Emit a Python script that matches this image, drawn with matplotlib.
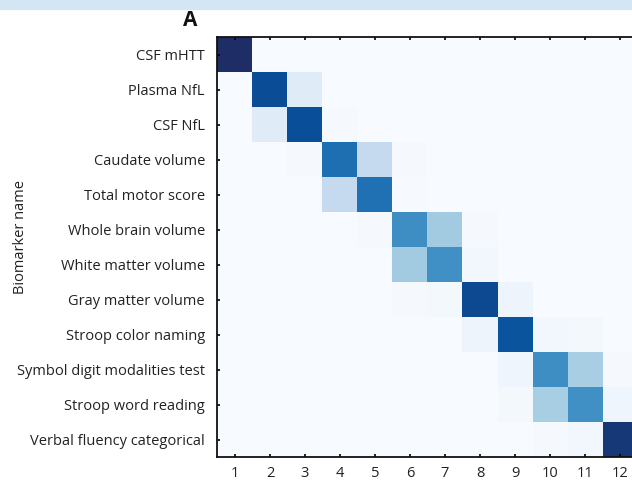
import numpy as np
import matplotlib.pyplot as plt
from matplotlib.colors import LinearSegmentedColormap
from matplotlib.patches import Rectangle

biomarkers = [
    "CSF mHTT",
    "Plasma NfL",
    "CSF NfL",
    "Caudate volume",
    "Total motor score",
    "Whole brain volume",
    "White matter volume",
    "Gray matter volume",
    "Stroop color naming",
    "Symbol digit modalities test",
    "Stroop word reading",
    "Verbal fluency categorical",
]
events = [str(i) for i in range(1, 13)]

# probability of each biomarker at each stage position
row_1 = [1.00, 0, 0, 0, 0, 0, 0, 0, 0, 0, 0, 0]
row_2 = [0, 0.89, 0.12, 0, 0, 0, 0, 0, 0, 0, 0, 0]
row_3 = [0, 0.12, 0.88, 0.01, 0, 0, 0, 0, 0, 0, 0, 0]
row_4 = [0, 0, 0.01, 0.76, 0.25, 0.01, 0, 0, 0, 0, 0, 0]
row_5 = [0, 0, 0, 0.25, 0.75, 0.005, 0, 0, 0, 0, 0, 0]
row_6 = [0, 0, 0, 0, 0.01, 0.64, 0.36, 0.01, 0, 0, 0, 0]
row_7 = [0, 0, 0, 0, 0, 0.36, 0.63, 0.03, 0, 0, 0, 0]
row_8 = [0, 0, 0, 0, 0, 0.01, 0.02, 0.90, 0.05, 0, 0, 0]
row_9 = [0, 0, 0, 0, 0, 0, 0, 0.05, 0.86, 0.03, 0.02, 0]
row_10 = [0, 0, 0, 0, 0, 0, 0, 0, 0.04, 0.64, 0.34, 0.01]
row_11 = [0, 0, 0, 0, 0, 0, 0, 0, 0.02, 0.34, 0.63, 0.04]
row_12 = [0, 0, 0, 0, 0, 0, 0, 0, 0, 0.01, 0.03, 0.96]

matrix = np.array([row_1, row_2, row_3, row_4, row_5, row_6,
                   row_7, row_8, row_9, row_10, row_11, row_12])

cmap = LinearSegmentedColormap.from_list("pos", [
    (0.0, "#f7fbff"), (0.125, "#deebf7"), (0.25, "#c6dbef"),
    (0.375, "#9ecae1"), (0.5, "#6baed6"), (0.625, "#4292c6"),
    (0.75, "#2171b5"), (0.875, "#08519c"), (1.0, "#1e2d66")])

plt.rcParams['font.family'] = ['Open Sans', 'DejaVu Sans']

fig = plt.figure(figsize=(6.32, 4.8), dpi=100)
fig.patches.append(Rectangle((0, 0.981), 1, 0.019, transform=fig.transFigure,
                             color="#d3e6f4", zorder=0))

ax = fig.add_axes([0.344, 0.047, 0.665, 0.875])
ax.imshow(matrix, cmap=cmap, vmin=0, vmax=1, aspect="auto",
          interpolation="nearest")

ax.set_xticks(range(len(events)))
ax.set_xticklabels(events, fontsize=10.5, color="#222222")
ax.set_yticks(range(len(biomarkers)))
ax.set_yticklabels(biomarkers, fontsize=10.5, color="#222222")
ax.tick_params(direction="in", length=2.5, width=1.2, top=True,
               right=True, pad=9)
ax.tick_params(axis="x", pad=6)

# axis title sits at the far left edge of the figure
fig.text(0.033, 0.506, "Biomarker name", fontsize=10.5, color="#222222",
         rotation=90, ha="center", va="center")

for side in ["left", "top", "bottom", "right"]:
    ax.spines[side].set_linewidth(1.3)
    ax.spines[side].set_color("#111111")

fig.text(0.301, 0.958, "A", fontsize=15, fontweight="bold",
         ha="center", va="center", color="#111111")

fig.savefig("out.png", dpi=100)
